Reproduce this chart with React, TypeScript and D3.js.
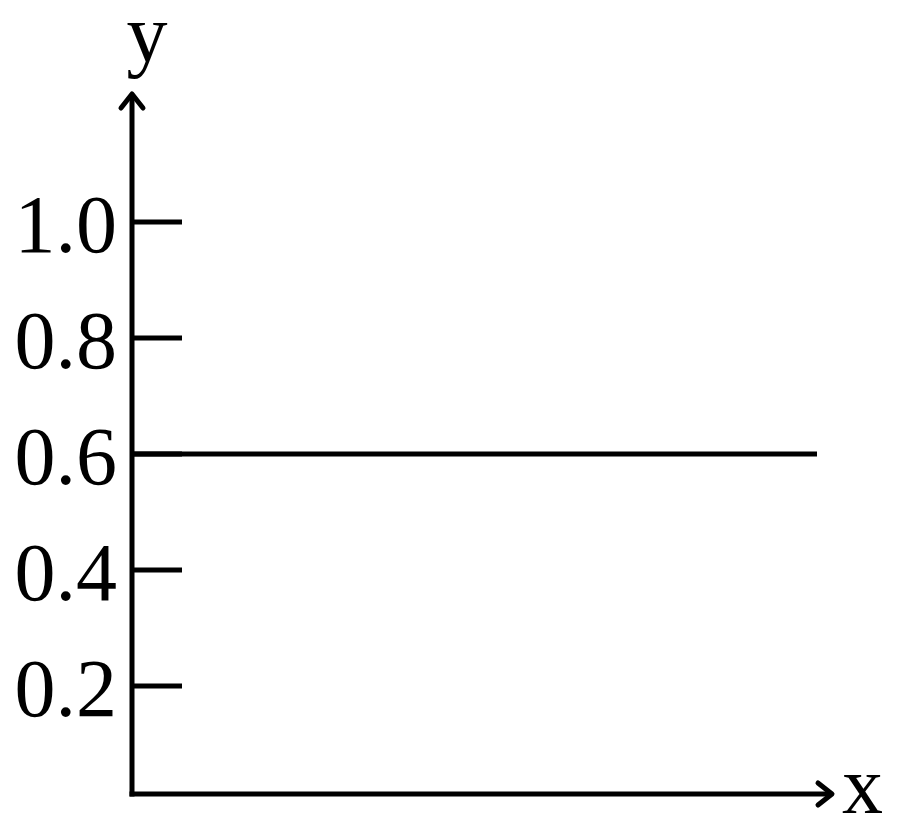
import React from "react";
import * as d3 from "d3";

const yTicks = [0.2, 0.4, 0.6, 0.8, 1.0];
const yTickLabels = ["0.2", "0.4", "0.6", "0.8", "1.0"];
const lineX = [0, 1];
const lineY = [0.6, 0.6];
const xAxisLabel = "x";
const yAxisLabel = "y";

const W = 900;
const H = 830;
const originX = 132;
const originY = 794;
const FONT = "'Liberation Serif', 'Times New Roman', serif";

export default function App() {
  const y = d3.scaleLinear().domain([0.6, 1.0]).range([454, 222]);
  const x = d3.scaleLinear().domain([0, 1]).range([originX, 817]);
  const line = d3
    .line<number>()
    .x((_, i) => x(lineX[i]))
    .y((d) => y(d));
  const sw = 5;
  return (
    <svg
      width={W}
      height={H}
      style={{ position: "absolute", left: 0, top: 0, background: "#fff" }}
    >
      {/* y axis */}
      <line x1={originX} y1={originY + sw / 2} x2={originX} y2={94} stroke="#000" strokeWidth={sw} />
      <path
        d={`M${originX - 11},108 L${originX},94 L${originX + 11},108`}
        fill="none"
        stroke="#000"
        strokeWidth={sw}
        strokeLinecap="round"
        strokeLinejoin="round"
      />
      {/* x axis */}
      <line x1={originX - sw / 2} y1={originY} x2={832} y2={originY} stroke="#000" strokeWidth={sw} />
      <path
        d={`M818,${originY - 11} L832,${originY} L818,${originY + 11}`}
        fill="none"
        stroke="#000"
        strokeWidth={sw}
        strokeLinecap="round"
        strokeLinejoin="round"
      />
      {/* ticks and labels */}
      {yTicks.map((t, i) => (
        <g key={t}>
          <line x1={originX} x2={182} y1={y(t)} y2={y(t)} stroke="#000" strokeWidth={sw} />
          <text
            x={117}
            y={y(t) + 30}
            textAnchor="end"
            fontFamily={FONT}
            fontSize={82}
            fill="#000"
          >
            {yTickLabels[i]}
          </text>
        </g>
      ))}
      {/* data line */}
      <path d={line(lineY) || ""} fill="none" stroke="#000" strokeWidth={sw} />
      {/* axis labels */}
      <text x={147} y={61} textAnchor="middle" fontFamily={FONT} fontSize={82} fill="#000">
        {yAxisLabel}
      </text>
      <text x={842} y={813} textAnchor="start" fontFamily={FONT} fontSize={82} fill="#000">
        {xAxisLabel}
      </text>
    </svg>
  );
}
